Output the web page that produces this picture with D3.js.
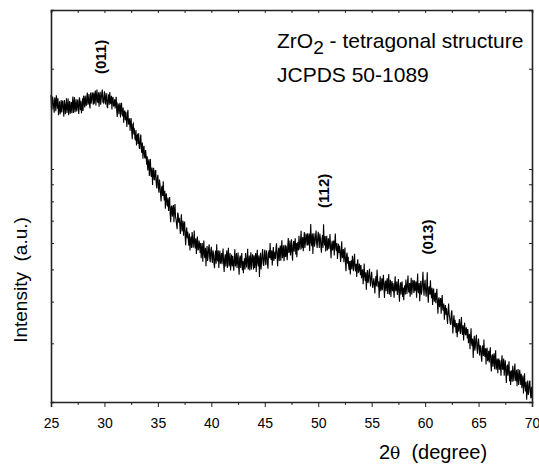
<!DOCTYPE html>
<html>
<head>
<meta charset="utf-8">
<script src="https://cdn.jsdelivr.net/npm/d3@7"></script>
<style>
  html, body { margin: 0; padding: 0; background: #fff; }
  svg { display: block; font-family: "Liberation Sans", Arial, sans-serif; }
</style>
</head>
<body>
<div id="chart"></div>
<script>
// XRD pattern, 2theta from 25 to 70 deg, step 0.05 deg (one row per degree)
const angleStart = 25;
const angleStep = 0.05;
const intensity = [
  1667, 1500, 1519, 1650, 1607, 1530, 1475, 1640, 1609, 1490, 1665, 1600, 1518, 1630, 1450, 1520, 1597, 1460, 1499, 1610,
  1479, 1580, 1603, 1500, 1436, 1610, 1561, 1460, 1547, 1630, 1473, 1540, 1627, 1450, 1528, 1600, 1466, 1520, 1589, 1470,
  1576, 1650, 1472, 1560, 1643, 1480, 1536, 1620, 1489, 1550, 1617, 1520, 1463, 1640, 1610, 1500, 1596, 1470, 1521, 1630,
  1493, 1660, 1608, 1530, 1660, 1580, 1545, 1650, 1695, 1560, 1584, 1680, 1561, 1520, 1695, 1570, 1612, 1700, 1660, 1560,
  1697, 1570, 1649, 1720, 1552, 1660, 1733, 1590, 1585, 1700, 1538, 1650, 1705, 1560, 1626, 1690, 1731, 1590, 1580, 1650,
  1710, 1580, 1571, 1690, 1644, 1540, 1523, 1670, 1661, 1560, 1701, 1590, 1565, 1660, 1510, 1630, 1644, 1540, 1557, 1620,
  1519, 1600, 1647, 1490, 1433, 1570, 1560, 1460, 1531, 1580, 1429, 1530, 1580, 1460, 1449, 1530, 1378, 1480, 1498, 1400,
  1484, 1400, 1338, 1470, 1504, 1360, 1374, 1420, 1302, 1380, 1421, 1300, 1228, 1360, 1370, 1270, 1325, 1240, 1218, 1310,
  1176, 1260, 1267, 1190, 1280, 1160, 1149, 1230, 1269, 1150, 1118, 1200, 1074, 1150, 1174, 1090, 1075, 1140, 1095, 1030,
  1093, 990, 1038, 1070, 953, 1030, 1071, 960, 948, 1010, 896, 980, 1009, 930, 928, 990, 990, 900, 874, 940,
  961, 880, 849, 930, 899, 840, 799, 880, 890, 830, 919, 840, 805, 860, 760, 830, 845, 780, 776, 820,
  748, 790, 824, 730, 693, 770, 776, 720, 752, 780, 692, 750, 785, 720, 705, 680, 660, 740, 730, 690,
  714, 680, 638, 700, 732, 650, 664, 700, 631, 680, 696, 630, 591, 650, 668, 620, 648, 610, 589, 640,
  570, 610, 627, 580, 647, 620, 581, 610, 654, 590, 578, 620, 556, 600, 627, 570, 575, 610, 593, 560,
  600, 540, 575, 600, 527, 570, 610, 550, 540, 580, 511, 560, 587, 530, 546, 580, 594, 540, 525, 570,
  584, 540, 523, 570, 560, 520, 504, 550, 569, 520, 595, 540, 528, 570, 505, 550, 569, 520, 530, 560,
  518, 550, 577, 520, 491, 540, 555, 510, 544, 570, 505, 550, 580, 510, 524, 560, 496, 530, 554, 510,
  548, 520, 495, 540, 574, 510, 526, 560, 505, 530, 562, 510, 482, 540, 550, 505, 540, 560, 497, 530,
  487, 520, 540, 500, 560, 530, 507, 545, 576, 500, 513, 550, 496, 530, 563, 500, 520, 555, 541, 500,
  551, 505, 532, 560, 491, 540, 572, 520, 510, 550, 474, 530, 561, 500, 525, 555, 575, 520, 512, 550,
  572, 530, 515, 570, 555, 520, 502, 560, 570, 540, 600, 545, 534, 570, 514, 555, 583, 530, 546, 565,
  537, 580, 599, 550, 511, 560, 580, 530, 570, 590, 531, 575, 611, 540, 556, 590, 529, 560, 593, 545,
  588, 560, 533, 590, 621, 560, 571, 610, 550, 575, 616, 560, 531, 590, 608, 565, 599, 620, 554, 600,
  544, 590, 605, 570, 631, 590, 573, 615, 653, 580, 583, 625, 567, 610, 647, 580, 601, 640, 627, 590,
  642, 590, 617, 640, 568, 620, 684, 600, 587, 640, 556, 615, 642, 585, 599, 630, 654, 600, 580, 620,
  648, 610, 580, 640, 622, 585, 561, 615, 634, 580, 683, 610, 590, 630, 566, 600, 631, 570, 588, 620,
  575, 600, 638, 580, 540, 590, 609, 570, 594, 610, 550, 600, 640, 580, 567, 600, 537, 570, 597, 560,
  588, 555, 526, 570, 607, 540, 551, 575, 525, 555, 581, 520, 494, 550, 561, 520, 545, 510, 498, 530,
  483, 525, 532, 500, 549, 520, 494, 535, 557, 505, 493, 520, 474, 515, 536, 490, 492, 520, 509, 480,
  515, 470, 492, 500, 451, 480, 521, 475, 461, 490, 434, 470, 498, 455, 463, 490, 502, 460, 444, 475,
  492, 460, 440, 455, 470, 450, 423, 460, 477, 445, 499, 470, 442, 460, 410, 450, 477, 430, 443, 470,
  433, 460, 482, 440, 410, 455, 463, 430, 453, 470, 422, 455, 484, 420, 437, 465, 413, 450, 461, 430,
  455, 435, 411, 450, 477, 430, 437, 460, 419, 440, 468, 425, 400, 445, 457, 420, 448, 460, 413, 440,
  404, 440, 448, 420, 466, 445, 422, 455, 479, 430, 426, 455, 414, 445, 472, 420, 437, 465, 455, 425,
  464, 430, 446, 460, 411, 445, 486, 430, 424, 455, 401, 440, 462, 420, 431, 460, 492, 440, 417, 450,
  465, 430, 414, 445, 490, 420, 397, 440, 445, 420, 464, 425, 410, 440, 391, 430, 438, 400, 407, 425,
  396, 420, 437, 395, 368, 405, 412, 385, 400, 410, 368, 400, 419, 380, 376, 395, 353, 380, 391, 365,
  383, 360, 343, 375, 395, 365, 358, 345, 341, 370, 377, 345, 321, 350, 364, 335, 353, 340, 322, 345,
  313, 335, 345, 325, 355, 340, 320, 345, 360, 325, 318, 340, 306, 330, 346, 320, 317, 335, 328, 310,
  331, 300, 316, 320, 288, 310, 333, 300, 294, 310, 271, 300, 316, 285, 293, 310, 318, 290, 279, 300,
  310, 290, 276, 295, 294, 275, 264, 290, 296, 275, 308, 280, 273, 290, 259, 285, 291, 265, 270, 285,
  263, 280, 292, 260, 247, 275, 278, 255, 271, 280, 251, 270, 286, 250, 259, 270, 244, 265, 270, 250,
  267, 255, 240, 265, 276, 250, 252, 270, 240, 255, 267, 245, 228, 255, 259, 240, 253, 265, 231, 248,
  225, 245, 249, 230, 257, 245, 231, 250, 261, 235, 231, 250, 223, 240, 251, 225, 232, 250, 239, 225,
  243, 220, 231, 240, 212, 228, 244, 222, 215, 230, 203, 218, 232, 210, 215, 228, 232, 212, 205, 222,
  206
];

const xTicks = [25, 30, 35, 40, 45, 50, 55, 60, 65, 70];
const xMinorTicks = [27.5, 32.5, 37.5, 42.5, 47.5, 52.5, 57.5, 62.5, 67.5];
const yTicks = [300, 400, 500, 600, 700, 800, 900, 1000, 2000];

const peakLabels = ['(011)', '(112)', '(013)'];
const peakAngles = [29.6, 50.5, 60.2];
const peakLabelLevels = [2170, 860, 625];

const width = 539;
const height = 464;
const margin = { top: 10, right: 7, bottom: 62, left: 51 };

const svg = d3.select('#chart').append('svg')
  .attr('width', width)
  .attr('height', height);

const x = d3.scaleLinear()
  .domain([25, 70])
  .range([margin.left, width - margin.right]);

const y = d3.scaleLog()
  .domain([200, 3000])
  .range([height - margin.bottom, margin.top]);

const axisColor = '#222';

// data line
const line = d3.line()
  .x((d, i) => x(angleStart + i * angleStep))
  .y(d => y(d));

svg.append('path')
  .datum(intensity)
  .attr('fill', 'none')
  .attr('stroke', '#000')
  .attr('stroke-width', 1.1)
  .attr('d', line);

// bottom axis, major + minor ticks
const bottom = svg.append('g')
  .attr('transform', `translate(0,${y.range()[0]})`)
  .call(d3.axisBottom(x).tickValues(xTicks).tickSize(5).tickFormat(d3.format('d')));
svg.append('g')
  .attr('transform', `translate(0,${y.range()[0]})`)
  .call(d3.axisBottom(x).tickValues(xMinorTicks).tickSize(3).tickFormat(''))
  .call(g => g.select('.domain').remove());

bottom.selectAll('text')
  .attr('dy', null)
  .attr('y', 26)
  .style('font-size', '14px')
  .style('font-family', '"Liberation Sans", Arial, sans-serif')
  .attr('fill', '#000');

// top axis, small inward ticks
svg.append('g')
  .attr('transform', `translate(0,${y.range()[1]})`)
  .call(d3.axisBottom(x).tickValues(xTicks.concat(xMinorTicks)).tickSize(3).tickFormat(''));

// left and right axes, inward log ticks with no labels
svg.append('g')
  .attr('transform', `translate(${x.range()[0]},0)`)
  .call(d3.axisRight(y).tickValues(yTicks).tickSize(3).tickFormat(''));
svg.append('g')
  .attr('transform', `translate(${x.range()[1]},0)`)
  .call(d3.axisLeft(y).tickValues(yTicks).tickSize(3).tickFormat(''));

svg.selectAll('.domain').attr('stroke', axisColor).attr('stroke-width', 1.6);
svg.selectAll('.tick line').attr('stroke', axisColor).attr('stroke-width', 1);

// axis titles
const xTitle = svg.append('text')
  .attr('x', 433)
  .attr('y', 459)
  .attr('text-anchor', 'middle')
  .style('font-size', '20px')
  .attr('fill', '#000');
xTitle.append('tspan').text('2');
xTitle.append('tspan').style('font-family', '"DejaVu Serif", serif').style('font-size', '17px').text('θ');
xTitle.append('tspan').text('\u00a0\u00a0(degree)');

svg.append('text')
  .attr('transform', 'translate(27,280) rotate(-90)')
  .attr('text-anchor', 'middle')
  .style('font-size', '19px')
  .attr('fill', '#000')
  .text('Intensity\u00a0\u00a0(a.u.)');

// phase annotation
const phase = svg.append('text')
  .attr('x', 277)
  .attr('y', 48)
  .style('font-size', '21px')
  .attr('fill', '#000');
phase.append('tspan').text('ZrO');
phase.append('tspan').attr('dy', 6).style('font-size', '19px').text('2');
phase.append('tspan').attr('dy', -6).text(' - tetragonal structure');

svg.append('text')
  .attr('x', 277)
  .attr('y', 82)
  .style('font-size', '21px')
  .attr('fill', '#000')
  .text('JCPDS 50-1089');

// peak labels
svg.selectAll('.peak')
  .data(peakLabels)
  .enter().append('text')
  .attr('class', 'peak')
  .attr('transform', (d, i) => `translate(${x(peakAngles[i])},${y(peakLabelLevels[i])}) rotate(-90)`)
  .attr('text-anchor', 'middle')
  .attr('dominant-baseline', 'central')
  .style('font-size', '15px')
  .style('font-weight', 'bold')
  .attr('fill', '#000')
  .text(d => d);
</script>
</body>
</html>
